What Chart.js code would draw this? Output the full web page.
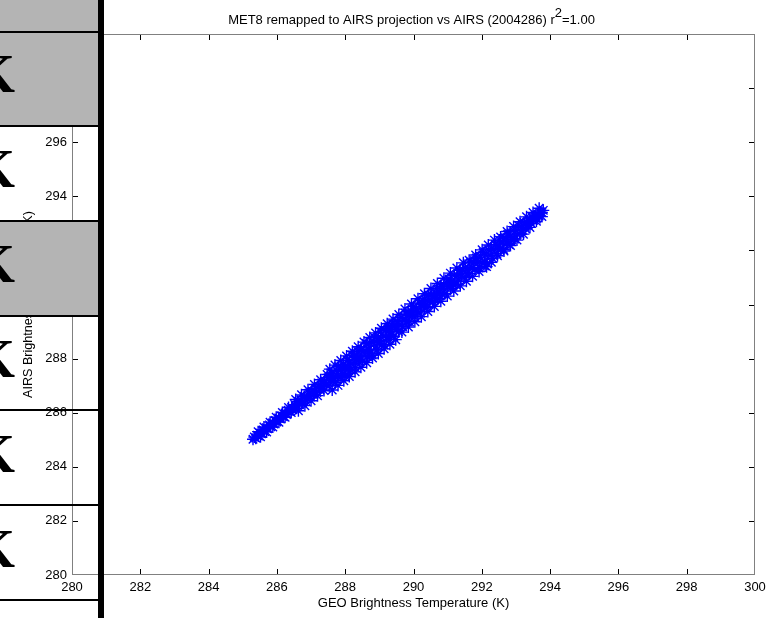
<!DOCTYPE html>
<html>
<head>
<meta charset="utf-8">
<script src="https://cdn.jsdelivr.net/npm/chart.js@4.4.0/dist/chart.umd.min.js"></script>
<style>
  body { margin: 0; background: #fff; }
  #wrap { position: relative; width: 778px; height: 618px; overflow: hidden; }
  #chart { position: absolute; left: 0; top: 0; }
  .tile { position: absolute; left: 0; width: 98px; background: #b4b4b4; }
  .rule { position: absolute; left: 0; width: 98px; height: 2px; background: #000; }
  .bar { position: absolute; left: 98px; top: 0; width: 6px; height: 618px; background: #000; }
  .k { position: absolute; left: -27px; font: bold 54px 'Liberation Serif', serif; line-height: 54px; color: #000; }
</style>
</head>
<body>
<div id="wrap">
  <canvas id="chart" width="778" height="618"></canvas>
  <div class="tile" style="top:0;height:31px"></div>
  <div class="tile" style="top:33px;height:92px"></div>
  <div class="tile" style="top:222px;height:93px"></div>
  <div class="rule" style="top:31px"></div>
  <div class="rule" style="top:125px"></div>
  <div class="rule" style="top:220px"></div>
  <div class="rule" style="top:315px"></div>
  <div class="rule" style="top:409px"></div>
  <div class="rule" style="top:504px"></div>
  <div class="rule" style="top:599px"></div>
  <span class="k" style="top:47px">K</span>
  <span class="k" style="top:142px">K</span>
  <span class="k" style="top:237px">K</span>
  <span class="k" style="top:332px">K</span>
  <span class="k" style="top:427px">K</span>
  <span class="k" style="top:522px">K</span>
  <div class="bar"></div>
</div>
<script>
const titleMain = 'MET8 remapped to AIRS projection vs AIRS (2004286) r';
const titleSup = '2';
const titleTail = '=1.00';
const xTitle = 'GEO Brightness Temperature (K)';
const yTitle = 'AIRS Brightness Temperature (K)';

const axisMin = 280;
const axisMax = 300;
const tickStep = 2;

// GEO (x) and AIRS (y) brightness temperatures
const geoTemp = [
  285.30, 285.34, 285.38, 285.42, 285.46, 285.50, 285.55, 285.60, 285.64, 285.69,
  285.73, 285.78, 285.82, 285.87, 285.91, 285.96, 286.00, 286.05, 286.10, 286.14,
  286.19, 286.24, 286.28, 286.33, 286.38, 286.43, 286.47,
  286.52, 286.56, 286.61, 286.66, 286.70, 286.75, 286.80, 286.84, 286.89, 286.94,
  286.98, 287.03, 287.08, 287.12, 287.17, 287.22, 287.26, 287.31, 287.36, 287.40, 287.45,
  287.50, 287.53, 287.57, 287.60, 287.64, 287.67, 287.71, 287.74, 287.78, 287.81,
  287.85, 287.88, 287.92, 287.95, 287.99, 288.02, 288.06, 288.09, 288.13, 288.16,
  288.20, 288.23, 288.27, 288.30, 288.34, 288.37, 288.41, 288.44, 288.48, 288.51,
  288.55, 288.58, 288.62, 288.65, 288.69, 288.72, 288.76, 288.79, 288.83, 288.86,
  288.90, 288.93, 288.97, 289.00, 289.04, 289.07, 289.11, 289.14, 289.18, 289.21,
  289.25, 289.28, 289.32, 289.35, 289.39, 289.42, 289.46, 289.49, 289.53, 289.56, 289.60,
  289.64, 289.68, 289.72, 289.76, 289.80, 289.84, 289.88, 289.92, 289.96,
  290.00, 290.04, 290.08, 290.12, 290.16, 290.20, 290.24, 290.28, 290.32, 290.36,
  290.40, 290.44, 290.48, 290.52, 290.56, 290.60, 290.64, 290.68, 290.72, 290.76,
  290.80, 290.84, 290.88, 290.92, 290.96,
  291.00, 291.04, 291.08, 291.12, 291.16, 291.20, 291.24, 291.28, 291.32, 291.36,
  291.40, 291.44, 291.48,
  291.52, 291.56, 291.60, 291.64, 291.68, 291.72, 291.76, 291.80, 291.84, 291.88,
  291.92, 291.96, 292.00, 292.04, 292.08, 292.12, 292.16, 292.20, 292.24, 292.28,
  292.32, 292.36, 292.14,
  292.40, 292.44, 292.48, 292.52, 292.56, 292.60, 292.64, 292.68, 292.72, 292.76,
  292.80, 292.84, 292.88, 292.92, 292.96,
  293.00, 293.04, 293.08, 293.12, 293.16, 293.20, 293.24, 293.28, 293.32, 293.36,
  293.40, 293.44, 293.48, 293.52, 293.56, 293.60, 293.64, 293.68, 293.72, 293.76, 293.80,
  // points along the edges of the band
  285.45, 285.52, 285.62, 285.70, 285.80, 285.88, 285.98, 286.06, 286.16, 286.24, 286.34, 286.42,
  286.55, 286.63, 286.72, 286.82, 286.91, 287.00, 287.10, 287.19, 287.28, 287.38, 287.47,
  287.55, 287.62, 287.70, 287.79, 287.87, 287.96, 288.04, 288.12, 288.21, 288.29,
  288.38, 288.46, 288.55, 288.63, 288.72, 288.80, 288.89, 288.97, 289.06, 289.14,
  289.23, 289.31, 289.40, 289.48, 289.57,
  287.66, 288.00, 288.33, 288.68, 289.02, 289.36,
  289.66, 289.75, 289.85, 289.94, 290.04, 290.13, 290.23, 290.32, 290.42, 290.51,
  290.61, 290.70, 290.80, 290.89, 290.99, 291.08, 291.18, 291.27, 291.37, 291.46,
  289.90, 290.30, 290.70, 291.10,
  291.55, 291.63, 291.73, 291.82, 291.92, 292.01, 292.10, 292.19, 292.28, 292.37,
  292.46, 292.55, 292.65, 292.74, 292.84, 292.93, 293.03, 293.12, 293.22, 293.31,
  293.41, 293.50, 293.60, 293.68, 293.76
];

const airsTemp = [
  285.02, 285.10, 285.06, 285.17, 285.14, 285.25, 285.22, 285.36, 285.30, 285.44,
  285.41, 285.55, 285.48, 285.62, 285.58, 285.71, 285.66, 285.80, 285.77, 285.89,
  285.85, 285.99, 285.93, 286.09, 286.04, 286.19, 286.11,
  286.30, 286.17, 286.42, 286.29, 286.47, 286.36, 286.60, 286.45, 286.52, 286.73,
  286.58, 286.79, 286.66, 286.90, 286.75, 286.98, 286.84, 287.10, 286.95, 287.18, 287.02,
  287.29, 286.99, 287.21, 287.46, 287.18, 287.36, 287.11, 287.56, 287.37, 287.71,
  287.29, 287.60, 287.44, 287.79, 287.37, 287.66, 287.94, 287.58, 287.87, 287.58,
  288.12, 287.82, 288.06, 287.66, 288.03, 288.26, 287.87, 288.08, 288.32, 287.90,
  288.29, 288.12, 288.56, 288.07, 288.35, 288.58, 288.25, 288.13, 288.59, 288.78,
  288.46, 288.32, 288.79, 288.64, 288.98, 288.51, 288.85, 288.50, 289.04, 288.77,
  289.17, 288.70, 289.01, 288.87, 289.28, 288.81, 289.22, 289.08, 289.37, 289.00, 289.26,
  289.52, 289.18, 289.42, 289.68, 289.38, 289.62, 289.36, 289.77, 289.61,
  289.92, 289.56, 289.83, 289.72, 290.06, 289.68, 289.94, 290.16, 289.87, 290.16,
  289.90, 290.36, 290.13, 290.37, 290.08, 290.35, 290.22, 290.58, 290.22, 290.46,
  290.68, 290.39, 290.66, 290.40, 290.81,
  290.65, 290.94, 290.60, 290.84, 290.76, 291.08, 290.74, 291.08, 290.90, 291.26,
  291.05, 291.26, 291.00,
  291.37, 291.14, 291.34, 291.14, 291.57, 291.36, 291.56, 291.29, 291.72, 291.54,
  291.35, 291.75, 291.54, 291.92, 291.56, 291.83, 291.51, 292.02, 291.82, 292.06,
  291.70, 292.03, 291.40,
  292.22, 291.88, 292.12, 292.38, 292.05, 292.32, 292.03, 292.47, 292.28, 292.60,
  292.22, 292.53, 292.40, 292.74, 292.42,
  292.74, 292.60, 292.92, 292.61, 292.85, 292.74, 293.03, 292.80, 293.04, 292.95,
  293.16, 293.00, 293.22, 293.11, 293.28, 293.16, 293.33, 293.27, 293.41, 293.40, 293.48,
  // points along the edges of the band
  285.30, 285.11, 285.47, 285.29, 285.65, 285.47, 285.83, 285.65, 286.01, 285.83, 286.19, 286.01,
  286.49, 286.07, 286.66, 286.26, 286.85, 286.44, 287.04, 286.63, 287.22, 286.82, 287.41,
  287.61, 286.84, 287.76, 287.01, 287.93, 287.18, 288.10, 287.34, 288.27, 287.51,
  288.44, 287.68, 288.61, 287.85, 288.78, 288.02, 288.95, 288.19, 289.12, 288.36,
  289.29, 288.53, 289.46, 288.70, 289.63,
  287.30, 287.64, 287.97, 288.32, 288.66, 289.00,
  288.98, 289.83, 289.17, 290.02, 289.36, 290.21, 289.55, 290.40, 289.74, 290.59,
  289.93, 290.78, 290.12, 290.97, 290.31, 291.16, 290.50, 291.35, 290.69, 291.54,
  289.60, 290.00, 290.40, 290.80,
  290.86, 291.64, 291.04, 291.83, 291.22, 292.02, 291.42, 292.20, 291.56, 292.38,
  291.80, 292.50, 291.98, 292.70, 292.18, 292.88, 292.38, 293.06, 292.60, 293.24,
  292.85, 293.40, 293.08, 293.56, 293.25
];

const fontFamily = "'Liberation Sans', Arial, sans-serif";
Chart.defaults.font.family = fontFamily;
Chart.defaults.font.size = 13;
Chart.defaults.color = '#000';

const background = {
  id: 'background',
  beforeDraw: (chart) => {
    const { ctx } = chart;
    ctx.save();
    ctx.fillStyle = '#FFFFFF';
    ctx.fillRect(0, 0, chart.width, chart.height);
    ctx.restore();
  }
};

// matlab style box with inward ticks on all four sides, plus the title
const axesBox = {
  id: 'axesBox',
  afterDatasetsDraw: (chart) => {
    const { ctx, chartArea: a, scales } = chart;
    const tickLen = 6;
    ctx.save();
    ctx.lineWidth = 1;
    ctx.strokeStyle = '#000';
    ctx.beginPath();
    scales.x.ticks.forEach((t) => {
      if (t.value <= axisMin || t.value >= axisMax) return;
      const px = Math.round(scales.x.getPixelForValue(t.value)) + 0.5;
      ctx.moveTo(px, a.bottom);
      ctx.lineTo(px, a.bottom - tickLen);
      ctx.moveTo(px, a.top);
      ctx.lineTo(px, a.top + tickLen);
    });
    scales.y.ticks.forEach((t) => {
      if (t.value <= axisMin || t.value >= axisMax) return;
      const py = Math.round(scales.y.getPixelForValue(t.value)) + 0.5;
      ctx.moveTo(a.left, py);
      ctx.lineTo(a.left + tickLen, py);
      ctx.moveTo(a.right, py);
      ctx.lineTo(a.right - tickLen, py);
    });
    ctx.stroke();

    ctx.strokeStyle = '#808080';
    ctx.strokeRect(a.left + 0.5, a.top + 0.5, a.right - a.left - 1, a.bottom - a.top - 1);

    ctx.font = `13px ${fontFamily}`;
    ctx.fillStyle = '#000';
    ctx.textBaseline = 'alphabetic';
    ctx.textAlign = 'left';
    const w1 = ctx.measureText(titleMain).width;
    const w2 = ctx.measureText(titleSup).width;
    const w3 = ctx.measureText(titleTail).width;
    let tx = (a.left + a.right) / 2 - 2 - (w1 + w2 + w3) / 2;
    ctx.fillText(titleMain, tx, 24);
    tx += w1;
    ctx.fillText(titleSup, tx, 17);
    tx += w2;
    ctx.fillText(titleTail, tx, 24);
    ctx.restore();
  }
};

new Chart(document.getElementById('chart'), {
  type: 'scatter',
  data: {
    datasets: [{
      data: geoTemp.map((g, i) => ({ x: g, y: airsTemp[i] })),
      pointStyle: 'star',
      radius: 6,
      borderWidth: 1.4,
      borderColor: '#0000FF',
      backgroundColor: '#0000FF'
    }]
  },
  options: {
    responsive: false,
    animation: false,
    devicePixelRatio: 1,
    layout: { padding: { top: 34, right: 23, bottom: 0, left: 0 } },
    plugins: {
      legend: { display: false },
      tooltip: { enabled: false }
    },
    scales: {
      x: {
        type: 'linear',
        min: axisMin,
        max: axisMax,
        afterFit: (s) => { s.height = 43; },
        grid: { display: false, drawTicks: false },
        border: { display: false },
        ticks: { stepSize: tickStep, padding: 5, maxRotation: 0, autoSkip: false, color: '#000' },
        title: { display: true, text: xTitle, color: '#000', padding: { top: 0, bottom: 7 } }
      },
      y: {
        type: 'linear',
        min: axisMin,
        max: axisMax,
        afterFit: (s) => { s.width = 72; },
        grid: { display: false, drawTicks: false },
        border: { display: false },
        ticks: { stepSize: tickStep, padding: 5, color: '#000' },
        title: { display: true, text: yTitle, color: '#000', font: { size: 12.6 }, padding: { top: 21, bottom: 0 } }
      }
    }
  },
  plugins: [background, axesBox]
});
</script>
</body>
</html>
